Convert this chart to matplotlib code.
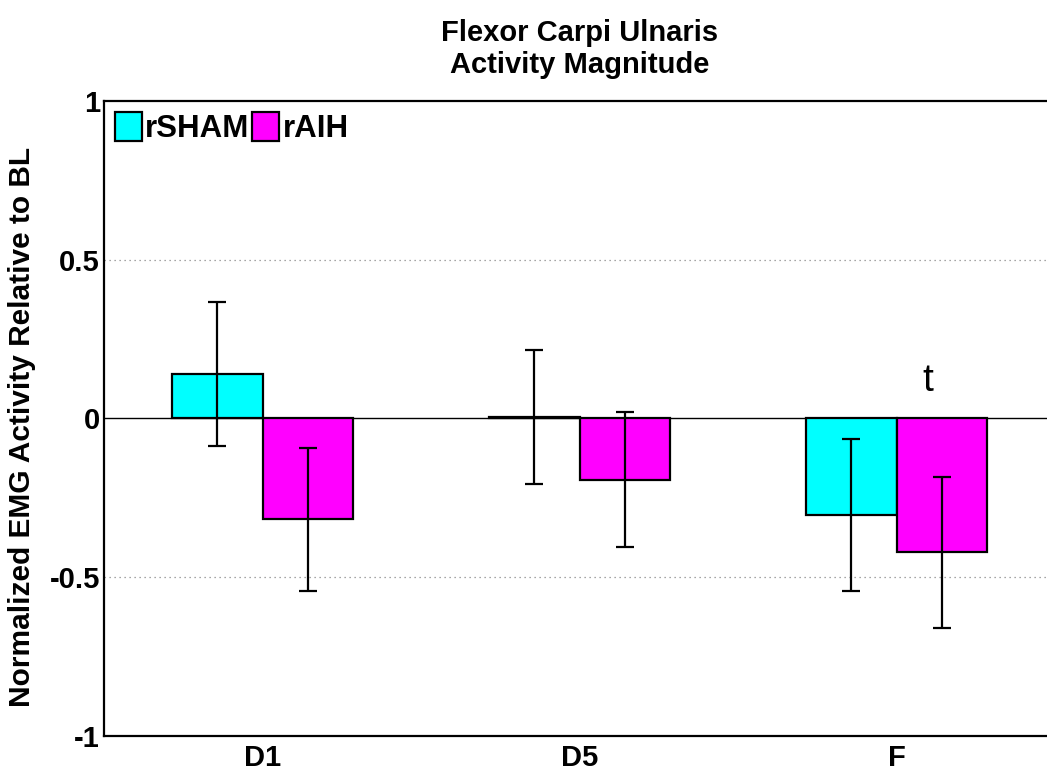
import numpy as np
import matplotlib
matplotlib.use("Agg")
import matplotlib.pyplot as plt

# bar data: mean change from baseline with error (SEM)
groups = ["D1", "D5", "F"]
sham_mean = [0.140, 0.005, -0.304]
sham_err = [0.226, 0.211, 0.239]
aih_mean = [-0.318, -0.193, -0.422]
aih_err = [0.225, 0.213, 0.238]
series = ["rSHAM", "rAIH"]
colors = ["#00ffff", "#ff00ff"]

plt.rcParams["font.family"] = ["Liberation Sans", "DejaVu Sans"]

fig = plt.figure(figsize=(10.47, 7.72), dpi=100)
ax = fig.add_axes([104 / 1047, 1 - 736 / 772, 951 / 1047, 635 / 772])

x = np.arange(1, len(groups) + 1)
w = 0.285
ekw = dict(ecolor="black", elinewidth=1.6, capsize=6.5, capthick=1.6)
ax.bar(x - w / 2, sham_mean, w, yerr=sham_err, color=colors[0],
       edgecolor="black", linewidth=1.6, label=series[0], error_kw=ekw, zorder=3)
ax.bar(x + w / 2, aih_mean, w, yerr=aih_err, color=colors[1],
       edgecolor="black", linewidth=1.6, label=series[1], error_kw=ekw, zorder=3)

ax.axhline(0, color="black", lw=1.0, zorder=2)
for yy in (0.5, -0.5):
    ax.axhline(yy, color="#888888", lw=0.9, ls=(0, (1, 3)), zorder=1)

ax.text(x[2] + w / 2 - 0.045, 0.06, "t", fontsize=28, ha="center", va="bottom")

ax.set_xlim(0.5, 3.5)
ax.set_ylim(-1, 1)
ax.set_xticks(x)
ax.set_xticklabels(groups)
ax.set_yticks([-1, -0.5, 0, 0.5, 1])
ax.set_yticklabels(["-1", "-0.5", "0", "0.5", "1"])
ax.tick_params(length=0, labelsize=21)
ax.tick_params(axis="y", pad=3)
ax.tick_params(axis="x", pad=6)
for lab in ax.get_xticklabels() + ax.get_yticklabels():
    lab.set_fontweight("bold")
for s in ax.spines.values():
    s.set_linewidth(1.6)
ax.spines["right"].set_visible(False)

ax.set_ylabel("Normalized EMG Activity Relative to BL", fontsize=21.5,
              fontweight="bold")
ax.yaxis.set_label_coords(-0.071, 0.487)
ax.set_title("Flexor Carpi Ulnaris\nActivity Magnitude", fontsize=21,
             fontweight="bold", pad=20, linespacing=1.2)

ax.legend(loc="upper left", ncol=2, frameon=False, prop={"weight": "bold", "size": 22.5},
          handlelength=0.85, handleheight=1.05, handletextpad=0.12,
          columnspacing=0.08, borderaxespad=0.25, borderpad=0.1)

fig.savefig("out.png", dpi=100)
